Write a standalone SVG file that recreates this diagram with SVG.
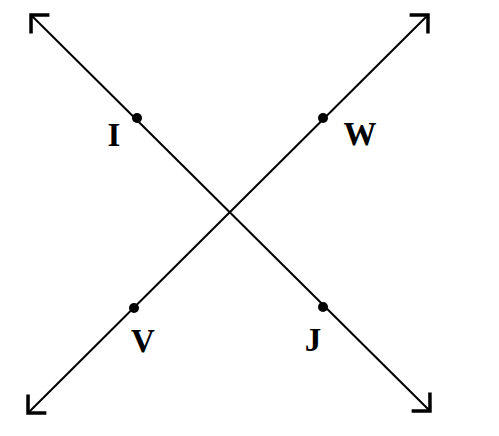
<svg xmlns="http://www.w3.org/2000/svg" width="499" height="436" viewBox="0 0 499 436">
<style>
.ln{stroke:#000;stroke-width:2;fill:none;marker-start:url(#ar);marker-end:url(#ar)}
.pt{fill:#000}
.lb{font-family:"Liberation Serif","Times New Roman",serif;font-weight:bold;font-size:33px;fill:#000;text-anchor:middle}
</style>
<defs>
<marker id="ar" markerUnits="userSpaceOnUse" orient="auto-start-reverse" markerWidth="40" markerHeight="40" refX="0" refY="0" viewBox="-20 -20 40 40" overflow="visible">
<path d="M-13,-13 L0,0 L-13,13" fill="none" stroke="#000" stroke-width="3.5" stroke-linejoin="miter" stroke-linecap="butt"/>
</marker>
</defs>
<rect width="499" height="436" fill="#fff"/>
<g id="connectors">
<line class="ln" x1="31" y1="15" x2="430" y2="411"/>
<line class="ln" x1="428" y1="15" x2="28" y2="413"/>
</g>
<g id="I"><circle class="pt" cx="137" cy="118" r="5"/><text class="lb" x="114" y="146">I</text></g>
<g id="W"><circle class="pt" cx="323" cy="118" r="5"/><text class="lb" x="360" y="145">W</text></g>
<g id="V"><circle class="pt" cx="134" cy="308" r="5"/><text class="lb" x="143" y="352">V</text></g>
<g id="J"><circle class="pt" cx="323" cy="307" r="5"/><text class="lb" x="313" y="351">J</text></g>
</svg>
